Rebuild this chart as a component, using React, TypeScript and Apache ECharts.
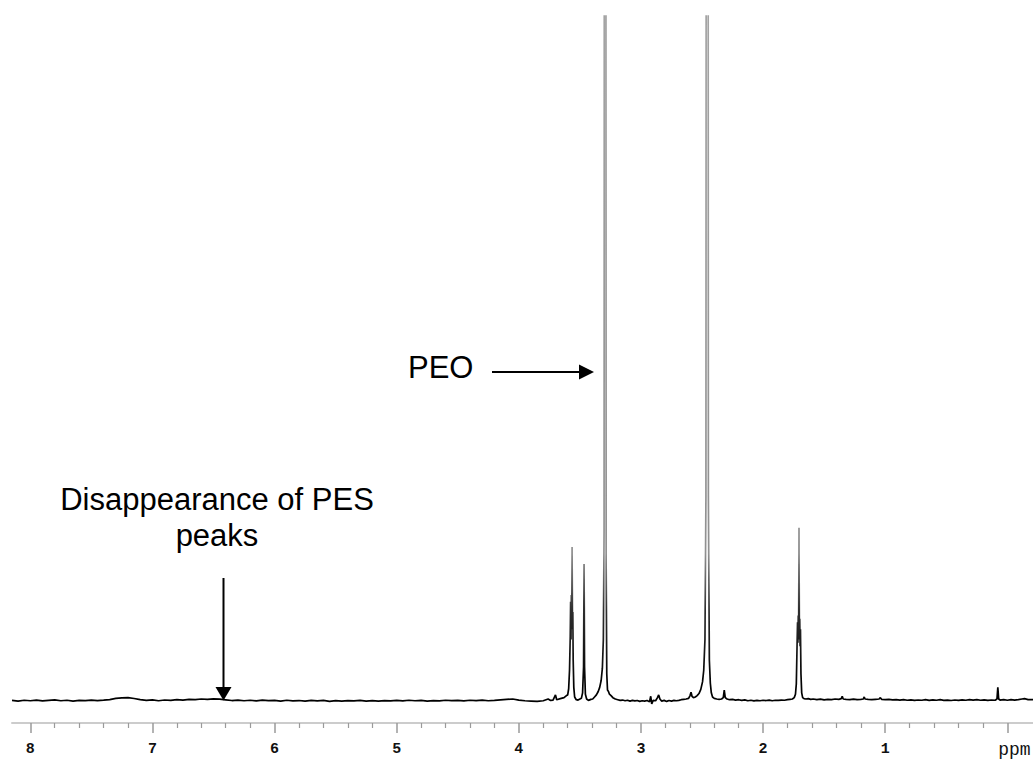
import React, { useEffect, useRef } from "react";
import * as echarts from "echarts";

// chemical shift (ppm) / intensity (arbitrary units)
const BASELINE_LEFT: [number, number][] = [
  [8.15, 0.1], [8.1, 0.0], [8.05, 0.12], [8.0, 0.05], [7.95, 0.15], [7.9, 0.02], [7.85, 0.1], [7.8, 0.18],
  [7.75, 0.05], [7.7, 0.12], [7.65, 0.0], [7.6, 0.1], [7.55, 0.06], [7.5, 0.15], [7.45, 0.08], [7.4, 0.14],
  [7.35, 0.22], [7.3, 0.4], [7.25, 0.48], [7.2, 0.5], [7.15, 0.38], [7.1, 0.2], [7.05, 0.1], [7.0, 0.18],
  [6.95, 0.05], [6.9, 0.16], [6.85, 0.1], [6.8, 0.2], [6.75, 0.14], [6.7, 0.26], [6.65, 0.22], [6.6, 0.3],
  [6.55, 0.25], [6.5, 0.32], [6.45, 0.28], [6.4, 0.18], [6.35, 0.08], [6.3, 0.15], [6.25, 0.05], [6.2, 0.12],
  [6.15, 0.02], [6.1, 0.14], [6.05, 0.06], [6.0, 0.1], [5.95, 0.0], [5.9, 0.12], [5.85, 0.04], [5.8, 0.08],
  [5.75, -0.02], [5.7, 0.1], [5.65, 0.03], [5.6, 0.09], [5.55, -0.03], [5.5, 0.06], [5.45, 0.0], [5.4, 0.08],
  [5.35, 0.02], [5.3, 0.1], [5.25, -0.02], [5.2, 0.06], [5.15, 0.0], [5.1, 0.08], [5.05, 0.02], [5.0, 0.1],
  [4.95, 0.04], [4.9, 0.12], [4.85, 0.05], [4.8, 0.1], [4.75, 0.0], [4.7, 0.08], [4.65, 0.02], [4.6, 0.12],
  [4.55, 0.06], [4.5, 0.1], [4.45, 0.03], [4.4, 0.12], [4.35, 0.08], [4.3, 0.14], [4.25, 0.05], [4.2, 0.1],
  [4.15, 0.18], [4.1, 0.25], [4.05, 0.3], [4.0, 0.15], [3.95, 0.05], [3.9, 0.0], [3.85, -0.05], [3.8, 0.05],
  [3.76, 0.3], [3.74, 0.1], [3.72, 0.15], [3.7, 0.9], [3.69, 0.2], [3.66, 0.35], [3.63, 0.5], [3.61, 0.8],
];

const PEAKS_PES_REGION: [number, number][] = [
  [3.6, 0.9], [3.592, 1.8], [3.585, 4.5], [3.579, 9.5], [3.576, 14.5], [3.573, 9], [3.57, 15.5],
  [3.567, 10.5], [3.564, 22.5], [3.561, 11], [3.558, 13], [3.555, 6], [3.55, 2], [3.543, 0.6],
  [3.53, 0.2], [3.515, 0.15], [3.5, 0.3], [3.488, 0.4], [3.478, 1.2], [3.47, 5], [3.466, 20],
  [3.462, 5], [3.455, 1.0], [3.445, 0.3], [3.43, 0.1], [3.41, 0.25], [3.395, 0.3], [3.38, 0.6],
  [3.365, 0.9], [3.35, 1.4], [3.338, 2.0], [3.326, 3.0], [3.316, 4.8], [3.308, 9], [3.302, 25],
  [3.297, 300], [3.29, 300], [3.285, 20], [3.28, 4], [3.274, 1.6], [3.266, 1.4], [3.258, 1.0],
  [3.245, 0.8], [3.23, 0.5], [3.21, 0.3], [3.19, 0.2], [3.17, 0.1], [3.15, 0.15], [3.13, 0.05],
  [3.11, 0.12], [3.09, 0.0], [3.07, 0.1], [3.05, 0.02], [3.03, 0.08], [3.01, -0.05], [2.99, 0.05],
  [2.97, 0.0], [2.95, 0.08], [2.93, -0.1], [2.92, 0.7], [2.912, -0.4], [2.9, 0.1], [2.88, 0.05],
  [2.865, 0.5], [2.855, 0.9], [2.845, 0.3], [2.83, 0.0], [2.81, 0.1], [2.79, -0.05], [2.77, 0.08],
  [2.75, 0.0], [2.73, 0.1], [2.71, 0.05], [2.69, 0.1], [2.67, 0.2], [2.65, 0.25], [2.63, 0.3],
  [2.61, 0.4], [2.598, 0.8], [2.59, 1.3], [2.582, 0.7], [2.57, 0.5], [2.555, 0.6], [2.54, 0.8],
  [2.525, 1.1], [2.51, 1.7], [2.496, 2.8], [2.486, 4.5], [2.476, 9], [2.468, 30], [2.462, 300],
  [2.454, 300], [2.448, 30], [2.44, 6], [2.432, 2.6], [2.424, 1.2], [2.414, 0.6], [2.4, 0.4],
  [2.38, 0.3], [2.36, 0.25], [2.34, 0.3], [2.326, 0.5], [2.318, 1.6], [2.31, 0.5], [2.295, 0.3],
];

const PEAKS_RIGHT: [number, number][] = [
  [2.275, 0.2], [2.25, 0.25], [2.225, 0.15], [2.2, 0.2], [2.175, 0.1], [2.15, 0.18], [2.125, 0.05],
  [2.1, 0.12], [2.075, 0.02], [2.05, 0.1], [2.025, 0.05], [2.0, 0.12], [1.975, 0.08], [1.95, 0.15],
  [1.925, 0.05], [1.9, 0.12], [1.875, 0.1], [1.85, 0.15], [1.825, 0.12], [1.8, 0.2], [1.78, 0.25],
  [1.76, 0.3], [1.745, 0.5], [1.735, 1.0], [1.728, 2.5], [1.722, 8], [1.718, 11.5], [1.715, 8.5],
  [1.712, 12.5], [1.709, 9], [1.706, 25.3], [1.703, 10], [1.7, 12], [1.697, 8], [1.694, 10.5],
  [1.69, 4], [1.684, 1.2], [1.676, 0.5], [1.665, 0.35], [1.65, 0.3], [1.63, 0.35], [1.61, 0.25],
  [1.59, 0.3], [1.56, 0.2], [1.53, 0.28], [1.5, 0.18], [1.47, 0.25], [1.44, 0.2], [1.41, 0.3],
  [1.38, 0.25], [1.36, 0.35], [1.352, 0.7], [1.344, 0.3], [1.32, 0.25], [1.29, 0.2], [1.26, 0.28],
  [1.23, 0.2], [1.2, 0.25], [1.18, 0.3], [1.172, 0.6], [1.165, 0.3], [1.14, 0.25], [1.11, 0.2],
  [1.08, 0.25], [1.05, 0.3], [1.04, 0.5], [1.03, 0.25], [1.0, 0.2], [0.97, 0.25], [0.94, 0.18],
  [0.91, 0.22], [0.88, 0.15], [0.85, 0.2], [0.82, 0.12], [0.79, 0.18], [0.76, 0.1], [0.73, 0.16],
  [0.7, 0.12], [0.67, 0.2], [0.64, 0.1], [0.61, 0.18], [0.58, 0.12], [0.55, 0.2], [0.52, 0.1],
  [0.49, 0.15], [0.46, 0.08], [0.43, 0.16], [0.4, 0.1], [0.37, 0.18], [0.34, 0.12], [0.31, 0.2],
  [0.28, 0.15], [0.25, 0.22], [0.22, 0.12], [0.19, 0.18], [0.16, 0.1], [0.13, 0.16], [0.1, 0.12],
  [0.085, 0.3], [0.078, 2.0], [0.071, 0.3], [0.06, 0.15], [0.03, 0.2], [0.0, 0.12], [-0.03, 0.2],
  [-0.06, 0.15], [-0.09, 0.22], [-0.12, 0.3], [-0.14, 0.35], [-0.17, 0.22], [-0.21, 0.2],
];

const MAJOR_TICKS = [0, 1, 2, 3, 4, 5, 6, 7, 8];
const MINOR_TICKS = [
  0.2, 0.4, 0.6, 0.8, 1.2, 1.4, 1.6, 1.8, 2.2, 2.4, 2.6, 2.8, 3.2, 3.4, 3.6, 3.8,
  4.2, 4.4, 4.6, 4.8, 5.2, 5.4, 5.6, 5.8, 6.2, 6.4, 6.6, 6.8, 7.2, 7.4, 7.6, 7.8,
];
const X_MIN = -0.21;
const X_MAX = 8.15;

const ANNOT_PEO = "PEO";
const ANNOT_PES_1 = "Disappearance of PES";
const ANNOT_PES_2 = "peaks";

export default function App() {
  const ref = useRef<HTMLDivElement>(null);

  useEffect(() => {
    const chart = echarts.init(ref.current!, null, { renderer: "svg" });
    const spectrum = [...BASELINE_LEFT, ...PEAKS_PES_REGION, ...PEAKS_RIGHT];
    const stroke = new echarts.graphic.LinearGradient(
      0, 16, 0, 723,
      [
        { offset: 0, color: "#a4a4a4" },
        { offset: 0.76, color: "#909090" },
        { offset: 0.84, color: "#2e2e2e" },
        { offset: 0.95, color: "#000" },
        { offset: 1, color: "#000" },
      ],
      true
    );
    const textFont = "31px 'Liberation Sans', Arial, sans-serif";
    chart.setOption({
      animation: false,
      backgroundColor: "#fff",
      grid: { left: 12, right: 0, top: 16, bottom: 37, containLabel: false, outerBoundsMode: "none" },
      xAxis: [
        {
          type: "value",
          inverse: true,
          min: X_MIN,
          max: X_MAX,
          position: "bottom",
          splitLine: { show: false },
          axisLine: { show: true, onZero: false, lineStyle: { color: "#cccccc", width: 2 } },
          axisTick: { show: true, customValues: MAJOR_TICKS, length: 10, lineStyle: { color: "#9a9a9a", width: 1.5 } },
          axisLabel: {
            show: true,
            customValues: MAJOR_TICKS,
            margin: 19,
            hideOverlap: false,
            color: "#111",
            fontFamily: "'Liberation Mono', 'DejaVu Sans Mono', monospace",
            fontWeight: "bold",
            fontSize: 15,
            lineHeight: 15,
            formatter: (v: number) => (v === 0 ? "{p|ppm}" : String(v)),
            rich: {
              p: {
                fontFamily: "'Liberation Mono', monospace",
                fontWeight: "normal",
                fontSize: 18,
                color: "#111",
                lineHeight: 15,
                padding: [0, 0, 0, 14],
              },
            },
          },
        },
        {
          type: "value",
          inverse: true,
          min: X_MIN,
          max: X_MAX,
          position: "bottom",
          splitLine: { show: false },
          axisLine: { show: false, onZero: false },
          axisTick: { show: true, customValues: MINOR_TICKS, length: 5, lineStyle: { color: "#9a9a9a", width: 1.2 } },
          axisLabel: { show: false },
        },
      ],
      yAxis: {
        type: "value",
        min: -3.2,
        max: 100,
        show: false,
        splitLine: { show: false },
      },
      series: [
        {
          type: "line",
          xAxisIndex: 0,
          data: spectrum,
          showSymbol: false,
          symbol: "none",
          clip: true,
          lineStyle: { color: stroke, width: 1.7 },
        },
      ],
      graphic: [
        {
          type: "text",
          style: { text: ANNOT_PEO, x: 408, y: 367, font: textFont, fill: "#000", textAlign: "left", textVerticalAlign: "middle" },
        },
        { type: "line", shape: { x1: 492, y1: 372, x2: 582, y2: 372 }, style: { stroke: "#000", lineWidth: 2 } },
        { type: "polygon", shape: { points: [[579, 364.5], [594, 372], [579, 379.5]] }, style: { fill: "#000" } },
        {
          type: "text",
          style: { text: ANNOT_PES_1, x: 217, y: 499, font: textFont, fill: "#000", textAlign: "center", textVerticalAlign: "middle" },
        },
        {
          type: "text",
          style: { text: ANNOT_PES_2, x: 217, y: 535, font: textFont, fill: "#000", textAlign: "center", textVerticalAlign: "middle" },
        },
        { type: "line", shape: { x1: 223.5, y1: 578, x2: 223.5, y2: 690 }, style: { stroke: "#000", lineWidth: 2 } },
        { type: "polygon", shape: { points: [[215.5, 687], [231.5, 687], [223.5, 700.5]] }, style: { fill: "#000" } },
      ],
    });
    return () => chart.dispose();
  }, []);

  return (
    <div
      ref={ref}
      style={{ position: "absolute", left: 0, top: 0, width: 1033, height: 760, background: "#fff" }}
    />
  );
}
